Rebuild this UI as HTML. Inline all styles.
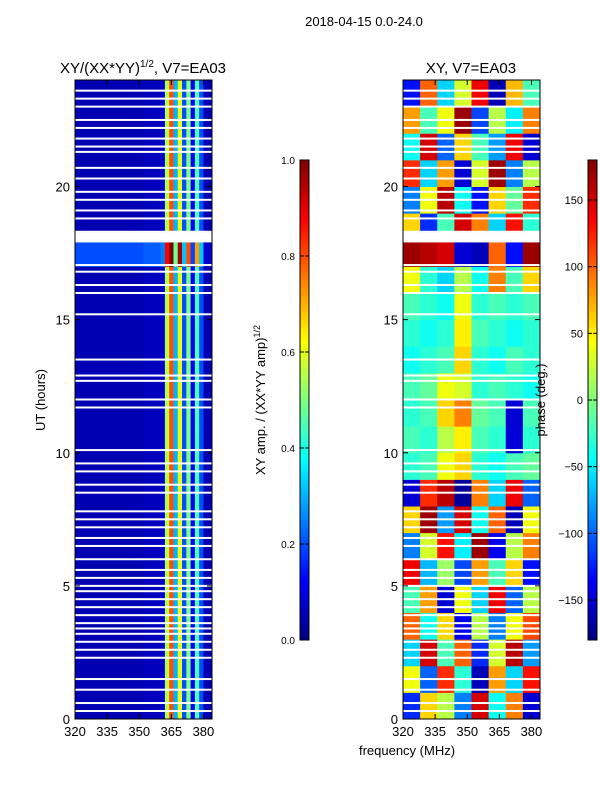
<!DOCTYPE html>
<html><head><meta charset="utf-8"><style>
body{margin:0;background:#fff;font-family:"Liberation Sans",sans-serif}
svg text{font-family:"Liberation Sans",sans-serif}
</style></head><body>
<svg id="fig" width="600" height="800" xmlns="http://www.w3.org/2000/svg">
<text x="364" y="26" font-size="13" text-anchor="middle">2018-04-15 0.0-24.0</text>
<g id="p1"></g>
<g id="p2"></g>
<g id="cb"></g>
<text x="143" y="73" font-size="15" text-anchor="middle">XY/(XX*YY)<tspan font-size="10" dy="-6">1/2</tspan><tspan dy="6">, V7=EA03</tspan></text>
<text x="471" y="73" font-size="15" text-anchor="middle">XY, V7=EA03</text>
<text x="45" y="400" font-size="13" text-anchor="middle" transform="rotate(-90 45 400)">UT (hours)</text>
<text x="407" y="755" font-size="13" text-anchor="middle">frequency (MHz)</text>
<text x="265" y="400" font-size="13" text-anchor="middle" transform="rotate(-90 265 400)">XY amp. / (XX*YY amp)<tspan font-size="9" dy="-5">1/2</tspan></text>
<text x="545" y="400" font-size="13" text-anchor="middle" transform="rotate(-90 545 400)">phase (deg.)</text>
</svg>
<script>
const freqEdges=[320,328,336,344,352,360,362,364,366,368,370,372,374,376,378,380,384];
const ampProfile=[0.05,0.05,0.05,0.05,0.06,0.08,0.55,0.8,0.3,0.6,0.2,0.5,0.12,0.45,0.2,0.05];
const hourBoost=[1,1,1,1,1,1,1,1,1,1,1,1,1,1,1,1,1,1.6,1,1,1,1,1,1];
const gaps=[0.3,0.6,1.1,1.5,2.3,2.6,2.9,3.2,3.4,3.6,3.9,4.2,4.5,4.8,5.0,5.3,5.6,6.0,6.5,6.8,7.2,7.5,7.8,8.5,8.8,9.3,9.6,10.1,11.7,12.0,12.7,12.9,13.5,15.2,16.0,16.3,16.8,17.05,18.3,18.8,19.1,19.5,19.8,20.3,20.7,21.3,21.5,21.8,22.2,22.5,23.0,23.3,23.6];
const phaseFreq=[320,328,336,344,352,360,368,376,384];
const phase=[
[-120,60,20,-90,150,-40,90,-150],[40,-100,120,-30,-160,80,-60,130],[-60,150,-20,100,-120,30,160,-80],
[100,-40,60,-140,20,-90,40,110],[-20,80,-150,40,-60,140,-100,20],[140,-70,10,-110,80,-20,60,-130],
[-90,30,130,-50,170,-140,20,90],[60,170,-80,150,-40,100,-160,40],[-150,120,160,-170,90,-60,140,-100],
[-30,-20,40,60,-30,-40,-20,-10],[-20,-30,20,50,-20,-30,-150,-30],[-30,-20,60,90,-10,-20,-150,-20],
[-20,-10,40,30,-30,-20,-30,-40],[-40,-30,-20,60,-30,-40,-20,-30],[-30,-40,-30,50,-20,-30,-40,-30],
[-20,-30,-40,40,-30,-20,-30,-20],[40,-30,-60,20,-40,90,-20,60],[170,160,150,-150,-160,100,-130,170],
[60,-120,-20,150,90,-60,130,-30],[-90,40,160,-40,-130,60,-10,120],[120,-60,80,-150,30,170,-90,20],
[-40,150,-100,60,-20,-80,140,-150],[80,-20,40,170,-110,20,-50,90],[-130,100,-60,30,140,-160,70,-20]];
const tickF=[320,335,350,365,380], tickT=[0,5,10,15,20];
const ampTicks=[0,0.2,0.4,0.6,0.8,1.0], phTicks=[-150,-100,-50,0,50,100,150];
const NS="http://www.w3.org/2000/svg";
function jet(v){v=Math.max(0,Math.min(1,v));const c=x=>Math.round(255*Math.max(0,Math.min(1,1.5-Math.abs(4*v-x))));return `rgb(${c(3)},${c(2)},${c(1)})`;}
function el(p,t,a){const e=document.createElementNS(NS,t);for(const k in a)e.setAttribute(k,a[k]);p.appendChild(e);return e;}
function panel(g,x0){
 const W=137,Y0=80,H=639;
 const fx=f=>x0+(f-320)/64*W, ty=t=>Y0+H-t/24*H;
 return {fx,ty,W,Y0,H};
}
function axes(g,x0,a){
 const r=el(g,'rect',{x:x0,y:a.Y0,width:a.W,height:a.H,fill:'none',stroke:'#000'});
 
 tickF.forEach(f=>{const x=a.fx(f);el(g,'line',{x1:x,x2:x,y1:a.Y0+a.H,y2:a.Y0+a.H-5,stroke:'#000'});el(g,'line',{x1:x,x2:x,y1:a.Y0,y2:a.Y0+5,stroke:'#000'});
  const t=el(g,'text',{x:x,y:a.Y0+a.H+17,'font-size':13,'text-anchor':'middle'});t.textContent=f;
  });
 tickT.forEach(h=>{const y=a.ty(h);el(g,'line',{x1:x0,x2:x0+5,y1:y,y2:y,stroke:'#000'});el(g,'line',{x1:x0+a.W,x2:x0+a.W-5,y1:y,y2:y,stroke:'#000'});
  const t=el(g,'text',{x:x0-5,y:y+5,'font-size':13,'text-anchor':'end'});t.textContent=h;
  });
}
function gapsDraw(g,x0,a){gaps.forEach(h=>{const r=el(g,'rect',{x:x0,y:a.ty(h)-1,width:a.W,height:2,fill:'#fff'});
 });
 el(g,'rect',{x:x0,y:a.ty(18.27),width:a.W,height:a.ty(17.9)-a.ty(18.27),fill:'#fff'});}
const g1=document.getElementById('p1'),a1=panel(g1,75);
for(let h=0;h<24;h++)for(let i=0;i<ampProfile.length;i++){
 const v=Math.min(1,ampProfile[i]*hourBoost[h]+(hourBoost[h]>1&&i<6?0.12:0));
 const r=el(g1,'rect',{x:a1.fx(freqEdges[i]),y:a1.ty(h+1),width:a1.fx(freqEdges[i+1])-a1.fx(freqEdges[i])+0.5,height:a1.ty(h)-a1.ty(h+1)+0.5,fill:jet(v)});
 }
gapsDraw(g1,75,a1);axes(g1,75,a1);
const g2=document.getElementById('p2'),a2=panel(g2,403);
for(let h=0;h<24;h++)for(let i=0;i<8;i++){
 const r=el(g2,'rect',{x:a2.fx(phaseFreq[i]),y:a2.ty(h+1),width:a2.fx(phaseFreq[i+1])-a2.fx(phaseFreq[i])+0.5,height:a2.ty(h)-a2.ty(h+1)+0.5,fill:jet((phase[h][i]+180)/360)});
 }
gapsDraw(g2,403,a2);axes(g2,403,a2);
const cb=document.getElementById('cb');
function colorbar(x,ticks,lo,hi){
 for(let k=0;k<120;k++){const r=el(cb,'rect',{x:x,y:640-(k+1)*4,width:9,height:4.5,fill:jet((k+0.5)/120)});
  }
 el(cb,'rect',{x:x,y:160,width:9,height:480,fill:'none',stroke:'#000'});
 ticks.forEach(v=>{const y=640-(v-lo)/(hi-lo)*480;el(cb,'line',{x1:x+9,x2:x+5,y1:y,y2:y,stroke:'#000'});el(cb,'line',{x1:x,x2:x+4,y1:y,y2:y,stroke:'#000'});
  const t=el(cb,'text',{x:x-5,y:y+4,'font-size':lo<0?11:10,'text-anchor':'end'});t.textContent=lo<0?String(v).replace('-','\u2212'):v.toFixed(1);
  });
}
colorbar(300,ampTicks,0,1);
colorbar(588,phTicks,-180,180);
</script>
</body></html>
